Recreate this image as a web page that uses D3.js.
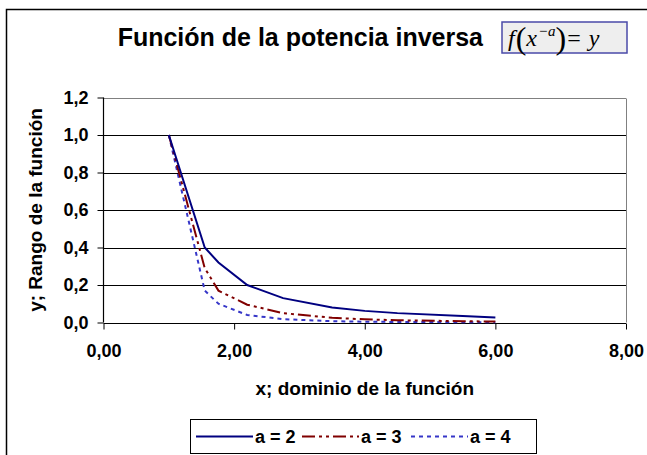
<!DOCTYPE html>
<html>
<head>
<meta charset="utf-8">
<script src="https://cdn.jsdelivr.net/npm/d3@7"></script>
<style>
  body { margin: 0; background: #fff; }
  svg text { font-family: Arial, "Liberation Sans", sans-serif; font-weight: bold; fill: #000; }
  .formula text { font-family: "Times New Roman", "Liberation Serif", serif; font-weight: normal; font-style: italic; }
</style>
</head>
<body>
<div id="chart"></div>
<script>
// values
var xValues = [1, 1.55, 1.76, 2.2, 2.75, 3.5, 4, 4.5, 5.5, 6];
var a2Values = [1, 0.40, 0.32, 0.20, 0.13, 0.08, 0.062, 0.05, 0.035, 0.027];
var a3Values = [1, 0.29, 0.17, 0.095, 0.05, 0.025, 0.017, 0.012, 0.007, 0.005];
var a4Values = [1, 0.17, 0.10, 0.04, 0.018, 0.007, 0.004, 0.003, 0.0015, 0.001];
var seriesNames = ['a = 2', 'a = 3', 'a = 4'];
var xTicks = [0, 2, 4, 6, 8];
var yTicks = [0, 0.2, 0.4, 0.6, 0.8, 1.0, 1.2];

var width = 647;
var height = 455;

var svg = d3.select('#chart')
  .append('svg')
  .attr('width', width)
  .attr('height', height);

// outer chart border (runs off the picture on right and bottom)
svg.append('rect')
  .attr('x', 6.5)
  .attr('y', 9.5)
  .attr('width', 700)
  .attr('height', 500)
  .attr('fill', 'none')
  .attr('stroke', '#000')
  .attr('stroke-width', 1.5);

var plot = { left: 103.5, right: 626, top: 97.5, bottom: 322.5 };

var x = d3.scaleLinear().domain([0, 8]).range([plot.left, plot.right]);
var y = d3.scaleLinear().domain([0, 1.2]).range([plot.bottom, plot.top]);

var fmtX = function(d) { return d3.format('.2f')(d).replace('.', ','); };
var fmtY = function(d) { return d3.format('.1f')(d).replace('.', ','); };

// gridlines
svg.append('g')
  .selectAll('line')
  .data(yTicks.slice(1))
  .enter()
  .append('line')
  .attr('x1', plot.left)
  .attr('x2', plot.right)
  .attr('y1', function(d) { return Math.round(y(d)) + 0.5; })
  .attr('y2', function(d) { return Math.round(y(d)) + 0.5; })
  .attr('stroke', function(d) { return d === 1.2 ? '#808080' : '#000'; })
  .attr('stroke-width', 1);

// right border of plot area
svg.append('line')
  .attr('x1', plot.right + 0.5).attr('x2', plot.right + 0.5)
  .attr('y1', Math.round(y(1.2)) + 0.5).attr('y2', plot.bottom)
  .attr('stroke', '#808080');

// axes
var xAxis = d3.axisBottom(x).tickValues(xTicks).tickSize(6).tickPadding(15).tickFormat(fmtX);
var yAxis = d3.axisLeft(y).tickValues(yTicks).tickSize(6).tickPadding(9).tickFormat(fmtY);

var gx = svg.append('g')
  .attr('transform', 'translate(0,' + (Math.round(y(0)) + 0.5) + ')')
  .call(xAxis);
var gy = svg.append('g')
  .attr('transform', 'translate(' + (Math.round(plot.left) - 0.5) + ',0)')
  .call(yAxis);

[gx, gy].forEach(function(g) {
  g.selectAll('.domain').attr('stroke', '#000').attr('stroke-width', 1.2);
  g.selectAll('.tick line').attr('stroke', '#000');
  g.selectAll('.tick text')
    .style('font-family', 'Arial, "Liberation Sans", sans-serif')
    .style('font-weight', 'bold')
    .style('font-size', '18px')
    .attr('fill', '#000');
});
gx.select('.domain').attr('d', 'M' + plot.left + ',0H' + plot.right);
gy.select('.domain').attr('d', 'M0,' + plot.top + 'V' + plot.bottom);

// series
var series = [
  { name: seriesNames[0], values: a2Values, color: '#000080', dash: null },
  { name: seriesNames[1], values: a3Values, color: '#800000', dash: '13,4,3,4,3,4' },
  { name: seriesNames[2], values: a4Values, color: '#3636c8', dash: '4,4' }
];

var line = d3.line()
  .x(function(d) { return x(d[0]); })
  .y(function(d) { return y(d[1]); });

series.slice().reverse().forEach(function(s) {
  svg.append('path')
    .datum(xValues.map(function(v, i) { return [v, s.values[i]]; }))
    .attr('d', line)
    .attr('fill', 'none')
    .attr('stroke', s.color)
    .attr('stroke-width', 2)
    .attr('stroke-dasharray', s.dash);
});

// title
svg.append('text')
  .attr('x', 483)
  .attr('y', 46)
  .attr('text-anchor', 'end')
  .style('font-size', '25px')
  .text('Función de la potencia inversa');

// formula box
var formula = svg.append('g').attr('class', 'formula');
formula.append('rect')
  .attr('x', 502).attr('y', 22)
  .attr('width', 125).attr('height', 31)
  .attr('fill', '#eeeeee')
  .attr('stroke', '#4a4aa8')
  .attr('stroke-width', 1.5);
var ft = formula.append('text')
  .attr('x', 508)
  .attr('y', 46)
  .style('font-size', '24px');
ft.append('tspan').text('f');
ft.append('tspan').attr('dx', 1).style('font-style', 'normal').style('font-size', '32px').attr('dy', 3).text('(');
ft.append('tspan').attr('dy', -3).text('x');
ft.append('tspan').attr('dy', -10).attr('dx', 1).style('font-size', '15px').text('−a');
ft.append('tspan').attr('dy', 13).style('font-style', 'normal').style('font-size', '32px').text(')');
ft.append('tspan').attr('dy', -3).attr('dx', 1).style('font-style', 'normal').text('=');
ft.append('tspan').attr('dx', 8).text('y');

// axis titles
svg.append('text')
  .attr('x', (plot.left + plot.right) / 2)
  .attr('y', 395)
  .attr('text-anchor', 'middle')
  .style('font-size', '19px')
  .text('x; dominio de la función');

svg.append('text')
  .attr('transform', 'translate(42,' + ((plot.top + plot.bottom) / 2) + ') rotate(-90)')
  .attr('text-anchor', 'middle')
  .style('font-size', '19px')
  .text('y; Rango de la función');

// legend
var legend = svg.append('g');
legend.append('rect')
  .attr('x', 190.5).attr('y', 419.5)
  .attr('width', 346).attr('height', 34)
  .attr('fill', '#fff')
  .attr('stroke', '#000')
  .attr('stroke-width', 1);

var legendX = [196, 302, 411];
series.forEach(function(s, i) {
  legend.append('line')
    .attr('x1', legendX[i]).attr('x2', legendX[i] + 57)
    .attr('y1', 436.5).attr('y2', 436.5)
    .attr('stroke', s.color)
    .attr('stroke-width', 2)
    .attr('stroke-dasharray', s.dash);
  legend.append('text')
    .attr('x', legendX[i] + 59)
    .attr('y', 443)
    .style('font-size', '18px')
    .text(s.name);
});
</script>
</body>
</html>
